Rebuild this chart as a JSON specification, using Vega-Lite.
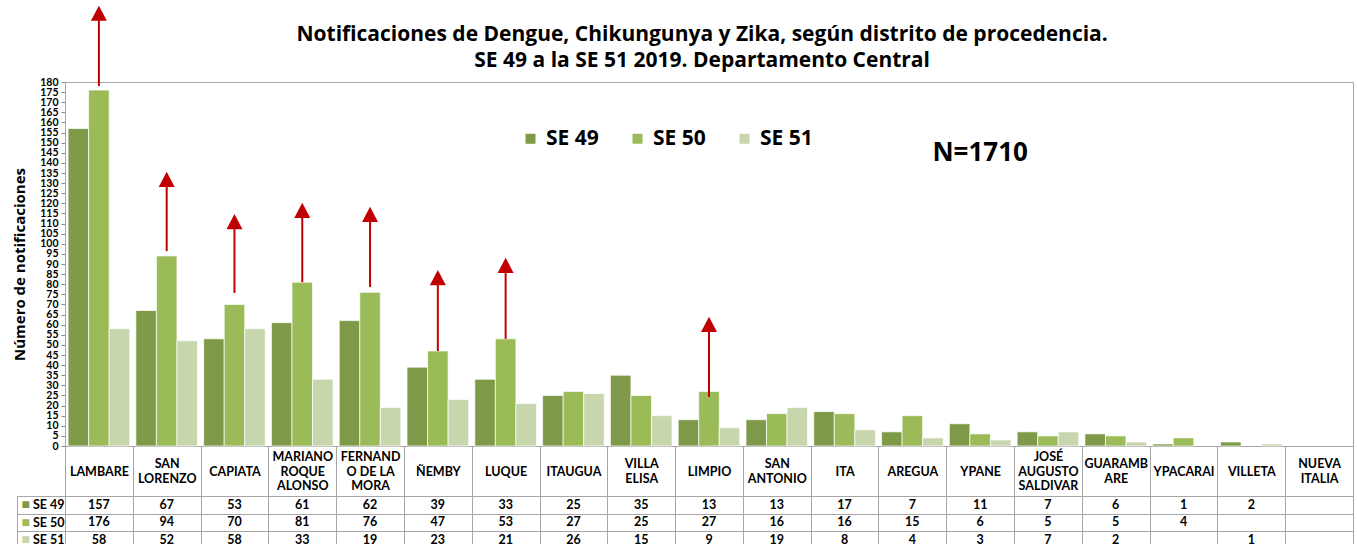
{
  "$schema": "https://vega.github.io/schema/vega-lite/v6.json",
  "padding": {"left": 12, "top": 5, "right": 3, "bottom": 0},
  "background": "white",
  "config": {"font": "Lato", "view": {"stroke": null}},
  "spacing": 50,
  "bounds": "flush",
  "title": {
    "text": ["Notificaciones de Dengue, Chikungunya y Zika, según distrito de procedencia.", "SE 49 a la SE 51 2019. Departamento Central"],
    "font": "Open Sans", "fontSize": 21, "fontWeight": "bold", "lineHeight": 26, "anchor": "middle", "color": "black", "offset": -66, "dx": 19
  },
  "datasets": {
    "casos": [
      {"distrito": "LAMBARE", "semana": "SE 49", "n": 157},
      {"distrito": "LAMBARE", "semana": "SE 50", "n": 176},
      {"distrito": "LAMBARE", "semana": "SE 51", "n": 58},
      {"distrito": "SAN LORENZO", "semana": "SE 49", "n": 67},
      {"distrito": "SAN LORENZO", "semana": "SE 50", "n": 94},
      {"distrito": "SAN LORENZO", "semana": "SE 51", "n": 52},
      {"distrito": "CAPIATA", "semana": "SE 49", "n": 53},
      {"distrito": "CAPIATA", "semana": "SE 50", "n": 70},
      {"distrito": "CAPIATA", "semana": "SE 51", "n": 58},
      {"distrito": "MARIANO ROQUE ALONSO", "semana": "SE 49", "n": 61},
      {"distrito": "MARIANO ROQUE ALONSO", "semana": "SE 50", "n": 81},
      {"distrito": "MARIANO ROQUE ALONSO", "semana": "SE 51", "n": 33},
      {"distrito": "FERNANDO DE LA MORA", "semana": "SE 49", "n": 62},
      {"distrito": "FERNANDO DE LA MORA", "semana": "SE 50", "n": 76},
      {"distrito": "FERNANDO DE LA MORA", "semana": "SE 51", "n": 19},
      {"distrito": "ÑEMBY", "semana": "SE 49", "n": 39},
      {"distrito": "ÑEMBY", "semana": "SE 50", "n": 47},
      {"distrito": "ÑEMBY", "semana": "SE 51", "n": 23},
      {"distrito": "LUQUE", "semana": "SE 49", "n": 33},
      {"distrito": "LUQUE", "semana": "SE 50", "n": 53},
      {"distrito": "LUQUE", "semana": "SE 51", "n": 21},
      {"distrito": "ITAUGUA", "semana": "SE 49", "n": 25},
      {"distrito": "ITAUGUA", "semana": "SE 50", "n": 27},
      {"distrito": "ITAUGUA", "semana": "SE 51", "n": 26},
      {"distrito": "VILLA ELISA", "semana": "SE 49", "n": 35},
      {"distrito": "VILLA ELISA", "semana": "SE 50", "n": 25},
      {"distrito": "VILLA ELISA", "semana": "SE 51", "n": 15},
      {"distrito": "LIMPIO", "semana": "SE 49", "n": 13},
      {"distrito": "LIMPIO", "semana": "SE 50", "n": 27},
      {"distrito": "LIMPIO", "semana": "SE 51", "n": 9},
      {"distrito": "SAN ANTONIO", "semana": "SE 49", "n": 13},
      {"distrito": "SAN ANTONIO", "semana": "SE 50", "n": 16},
      {"distrito": "SAN ANTONIO", "semana": "SE 51", "n": 19},
      {"distrito": "ITA", "semana": "SE 49", "n": 17},
      {"distrito": "ITA", "semana": "SE 50", "n": 16},
      {"distrito": "ITA", "semana": "SE 51", "n": 8},
      {"distrito": "AREGUA", "semana": "SE 49", "n": 7},
      {"distrito": "AREGUA", "semana": "SE 50", "n": 15},
      {"distrito": "AREGUA", "semana": "SE 51", "n": 4},
      {"distrito": "YPANE", "semana": "SE 49", "n": 11},
      {"distrito": "YPANE", "semana": "SE 50", "n": 6},
      {"distrito": "YPANE", "semana": "SE 51", "n": 3},
      {"distrito": "JOSÉ AUGUSTO SALDIVAR", "semana": "SE 49", "n": 7},
      {"distrito": "JOSÉ AUGUSTO SALDIVAR", "semana": "SE 50", "n": 5},
      {"distrito": "JOSÉ AUGUSTO SALDIVAR", "semana": "SE 51", "n": 7},
      {"distrito": "GUARAMBARE", "semana": "SE 49", "n": 6},
      {"distrito": "GUARAMBARE", "semana": "SE 50", "n": 5},
      {"distrito": "GUARAMBARE", "semana": "SE 51", "n": 2},
      {"distrito": "YPACARAI", "semana": "SE 49", "n": 1},
      {"distrito": "YPACARAI", "semana": "SE 50", "n": 4},
      {"distrito": "YPACARAI", "semana": "SE 51", "n": null},
      {"distrito": "VILLETA", "semana": "SE 49", "n": 2},
      {"distrito": "VILLETA", "semana": "SE 50", "n": null},
      {"distrito": "VILLETA", "semana": "SE 51", "n": 1},
      {"distrito": "NUEVA ITALIA", "semana": "SE 49", "n": null},
      {"distrito": "NUEVA ITALIA", "semana": "SE 50", "n": null},
      {"distrito": "NUEVA ITALIA", "semana": "SE 51", "n": null}
    ],
    "flechas": [
      {"distrito": "LAMBARE", "semana": "SE 50", "desde": 178, "hasta": 214},
      {"distrito": "SAN LORENZO", "semana": "SE 50", "desde": 96.4, "hasta": 131.8},
      {"distrito": "CAPIATA", "semana": "SE 50", "desde": 75.7, "hasta": 111},
      {"distrito": "MARIANO ROQUE ALONSO", "semana": "SE 50", "desde": 81, "hasta": 116.5},
      {"distrito": "FERNANDO DE LA MORA", "semana": "SE 50", "desde": 78.6, "hasta": 114.5},
      {"distrito": "ÑEMBY", "semana": "SE 50", "desde": 47, "hasta": 83.3},
      {"distrito": "LUQUE", "semana": "SE 50", "desde": 53, "hasta": 89.3},
      {"distrito": "LIMPIO", "semana": "SE 50", "desde": 24.2, "hasta": 60.1}
    ]
  },
  "vconcat": [
    {
      "width": 1288,
      "height": 364,
      "view": {"stroke": "#A6A6A6"},
      "encoding": {
        "x": {
          "field": "distrito", "type": "nominal",
          "scale": {"domain": ["LAMBARE","SAN LORENZO","CAPIATA","MARIANO ROQUE ALONSO","FERNANDO DE LA MORA","ÑEMBY","LUQUE","ITAUGUA","VILLA ELISA","LIMPIO","SAN ANTONIO","ITA","AREGUA","YPANE","JOSÉ AUGUSTO SALDIVAR","GUARAMBARE","YPACARAI","VILLETA","NUEVA ITALIA"], "paddingInner": 0, "paddingOuter": 0},
          "axis": {
            "title": null, "labelAngle": 0, "tickBand": "extent", "tickSize": 50, "tickColor": "#A6A6A6", "domainColor": "#A6A6A6",
            "labelExpr": "datum.label == 'FERNANDO DE LA MORA' ? ['FERNAND', 'O DE LA', 'MORA'] : datum.label == 'GUARAMBARE' ? ['GUARAMB', 'ARE'] : split(datum.label, ' ')",
            "labelBaseline": "middle",
            "labelPadding": {"condition": [
              {"test": "indexof(['MARIANO ROQUE ALONSO', 'FERNANDO DE LA MORA', 'JOSÉ AUGUSTO SALDIVAR'], datum.value) >= 0", "value": -39.5},
              {"test": "indexof(['SAN LORENZO', 'VILLA ELISA', 'SAN ANTONIO', 'GUARAMBARE', 'NUEVA ITALIA'], datum.value) >= 0", "value": -32.25}
            ], "value": -25},
            "labelFontSize": 12.5, "labelFontWeight": "bold", "labelColor": "black", "labelLineHeight": 14.5, "labelLimit": 300
          }
        },
        "xOffset": {"field": "semana", "type": "nominal", "scale": {"domain": ["SE 49","SE 50","SE 51"], "paddingInner": 0, "paddingOuter": 0.15}}
      },
      "layer": [
        {
          "data": {"name": "casos"},
          "mark": {"type": "bar", "stroke": "white", "strokeWidth": 0.7},
          "encoding": {
            "y": {
              "field": "n", "type": "quantitative",
              "scale": {"domain": [0, 180], "nice": false},
              "axis": {
                "title": "Número de notificaciones", "titleFont": "Open Sans", "titleFontSize": 15, "titleFontWeight": "bold", "titleColor": "black", "titlePadding": 12,
                "values": [0,5,10,15,20,25,30,35,40,45,50,55,60,65,70,75,80,85,90,95,100,105,110,115,120,125,130,135,140,145,150,155,160,165,170,175,180],
                "labelFontSize": 10.5, "labelFontWeight": "bold", "labelColor": "black", "labelOverlap": false, "labelFlush": false, "labelPadding": 3,
                "tickSize": 4, "tickColor": "#888888", "domainColor": "#A6A6A6", "grid": false
              }
            },
            "color": {
              "field": "semana", "type": "nominal",
              "scale": {"domain": ["SE 49","SE 50","SE 51"], "range": ["#7E9A48","#9BBB59","#C7D6AD"]},
              "legend": {
                "title": null, "orient": "none", "legendX": 455, "legendY": 46, "direction": "horizontal",
                "symbolType": "square", "symbolSize": 100, "symbolStrokeWidth": 0, "symbolOpacity": 1,
                "labelFont": "Open Sans", "labelFontSize": 21, "labelFontWeight": "bold", "labelColor": "black", "labelOffset": 5, "columnPadding": 28
              }
            }
          }
        },
        {
          "data": {"name": "flechas"},
          "mark": {"type": "rule", "color": "#C00000", "strokeWidth": 2},
          "encoding": {
            "y": {
              "field": "desde", "type": "quantitative",
              "axis": {
                "title": "Número de notificaciones", "titleFont": "Open Sans", "titleFontSize": 15, "titleFontWeight": "bold", "titleColor": "black", "titlePadding": 12,
                "values": [0,5,10,15,20,25,30,35,40,45,50,55,60,65,70,75,80,85,90,95,100,105,110,115,120,125,130,135,140,145,150,155,160,165,170,175,180],
                "labelFontSize": 10.5, "labelFontWeight": "bold", "labelColor": "black", "labelOverlap": false, "labelFlush": false, "labelPadding": 3,
                "tickSize": 4, "tickColor": "#888888", "domainColor": "#A6A6A6", "grid": false
              }
            },
            "y2": {"field": "hasta"}
          }
        },
        {
          "data": {"name": "flechas"},
          "mark": {"type": "point", "shape": "M-1,0.95L1,0.95L0,-0.95Z", "size": 256, "filled": true, "color": "#C00000", "opacity": 1},
          "encoding": {
            "y": {
              "field": "hasta", "type": "quantitative",
              "axis": {
                "title": "Número de notificaciones", "titleFont": "Open Sans", "titleFontSize": 15, "titleFontWeight": "bold", "titleColor": "black", "titlePadding": 12,
                "values": [0,5,10,15,20,25,30,35,40,45,50,55,60,65,70,75,80,85,90,95,100,105,110,115,120,125,130,135,140,145,150,155,160,165,170,175,180],
                "labelFontSize": 10.5, "labelFontWeight": "bold", "labelColor": "black", "labelOverlap": false, "labelFlush": false, "labelPadding": 3,
                "tickSize": 4, "tickColor": "#888888", "domainColor": "#A6A6A6", "grid": false
              }
            }
          }
        },
        {
          "data": {"values": [{}]},
          "mark": {"type": "text", "font": "Open Sans", "fontSize": 26, "fontWeight": "bold", "color": "black"},
          "encoding": {
            "x": {"datum": "YPANE"},
            "xOffset": {"datum": "SE 50"},
            "y": {
              "datum": 145,
              "axis": {
                "title": "Número de notificaciones", "titleFont": "Open Sans", "titleFontSize": 15, "titleFontWeight": "bold", "titleColor": "black", "titlePadding": 12,
                "values": [0,5,10,15,20,25,30,35,40,45,50,55,60,65,70,75,80,85,90,95,100,105,110,115,120,125,130,135,140,145,150,155,160,165,170,175,180],
                "labelFontSize": 10.5, "labelFontWeight": "bold", "labelColor": "black", "labelOverlap": false, "labelFlush": false, "labelPadding": 3,
                "tickSize": 4, "tickColor": "#888888", "domainColor": "#A6A6A6", "grid": false
              }
            },
            "text": {"value": "N=1710"}
          }
        }
      ]
    },
    {
      "width": 1288,
      "height": 52.5,
      "view": {"stroke": "#A6A6A6"},
      "data": {"name": "casos"},
      "transform": [{"filter": "datum.n != null"}],
      "encoding": {
        "x": {
          "field": "distrito", "type": "nominal",
          "scale": {"domain": ["LAMBARE","SAN LORENZO","CAPIATA","MARIANO ROQUE ALONSO","FERNANDO DE LA MORA","ÑEMBY","LUQUE","ITAUGUA","VILLA ELISA","LIMPIO","SAN ANTONIO","ITA","AREGUA","YPANE","JOSÉ AUGUSTO SALDIVAR","GUARAMBARE","YPACARAI","VILLETA","NUEVA ITALIA"], "paddingInner": 0, "paddingOuter": 0},
          "axis": {"title": null, "labels": false, "ticks": false, "domain": false, "grid": true, "tickBand": "extent", "gridColor": "#A6A6A6", "gridOpacity": 1}
        }
      },
      "layer": [
        {
          "mark": {"type": "text", "fontSize": 12.5, "fontWeight": "bold", "color": "black"},
          "encoding": {
            "y": {
              "field": "semana", "type": "nominal",
              "scale": {"domain": ["SE 49","SE 50","SE 51"], "paddingInner": 0, "paddingOuter": 0},
              "axis": {
                "title": null, "orient": "left", "grid": true, "tickBand": "extent", "gridColor": "#A6A6A6", "gridOpacity": 1,
                "tickSize": 48, "tickColor": "#A6A6A6", "domain": false,
                "labelPadding": -47, "labelFontSize": 12.5, "labelFontWeight": "bold", "labelColor": "black"
              }
            },
            "text": {"field": "n", "type": "quantitative"}
          }
        },
        {
          "mark": {"type": "text", "opacity": 0},
          "encoding": {
            "y": {
              "field": "semana", "type": "nominal",
              "scale": {"domain": ["SE 49","SE 50","SE 51"], "paddingInner": 0, "paddingOuter": 0},
              "axis": {
                "title": null, "orient": "left", "offset": 48, "grid": false, "ticks": false,
                "domain": true, "domainColor": "#A6A6A6",
                "labelExpr": "'■'", "labelAlign": "left", "labelPadding": -4, "labelFontSize": 14,
                "labelColor": {"condition": [{"test": "datum.value == 'SE 49'", "value": "#7E9A48"}, {"test": "datum.value == 'SE 50'", "value": "#9BBB59"}], "value": "#C7D6AD"}
              }
            },
            "text": {"value": ""}
          }
        }
      ],
      "resolve": {"scale": {"y": "independent"}}
    }
  ]
}
